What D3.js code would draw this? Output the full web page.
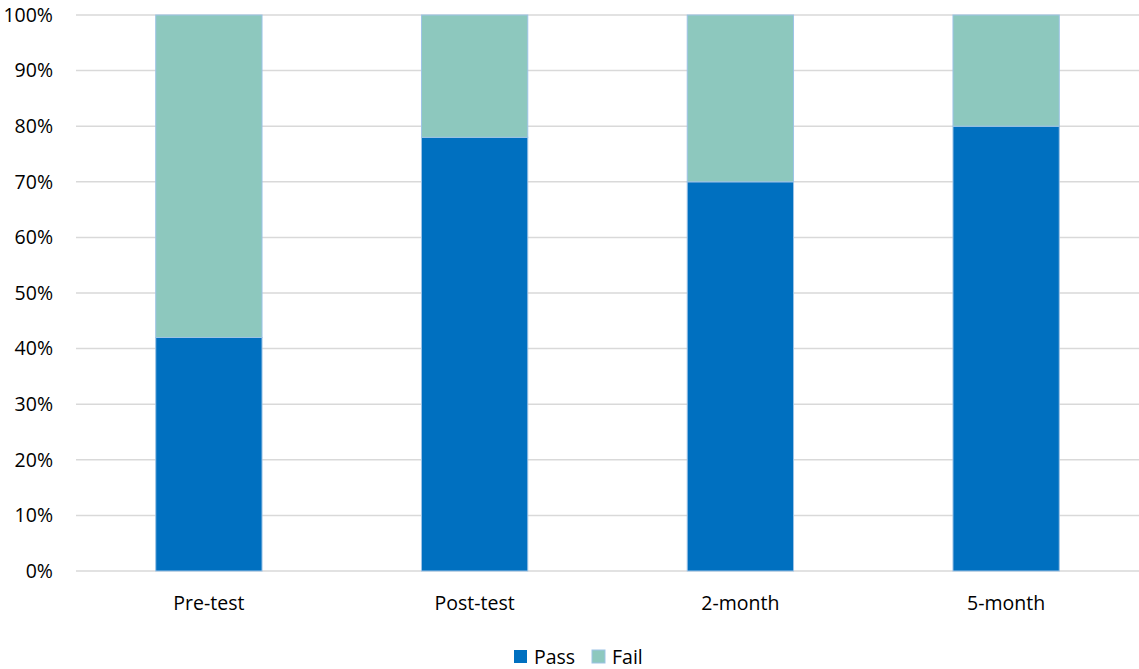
<!DOCTYPE html>
<html><head><meta charset="utf-8">
<script src="https://cdn.jsdelivr.net/npm/d3@7"></script>
<style>body{margin:0;background:#fff}text{font-family:"Open Sans","Noto Sans",sans-serif;fill:#000}</style>
</head><body>
<svg id="c" width="1139" height="669"></svg>
<script>
const categories = ["Pre-test","Post-test","2-month","5-month"];
const pass = [42, 78, 70, 80];
const fail = [58, 22, 30, 20];
const seriesNames = ["Pass","Fail"];
const yTicks = [0,10,20,30,40,50,60,70,80,90,100];
const colors = ["#0070C0","#8DC8BE"];

const svg = d3.select("#c");
const m = {l:76, r:1139, t:15, b:571};
const x = d3.scaleBand().domain(categories).range([m.l, m.r]).paddingInner(0.6).paddingOuter(0.3);
const y = d3.scaleLinear().domain([0,100]).range([m.b, m.t]);

svg.append("g").selectAll("line").data(yTicks).join("line")
  .attr("x1", m.l).attr("x2", m.r).attr("y1", d=>y(d)).attr("y2", d=>y(d))
  .attr("stroke", "#D9D9D9").attr("stroke-width", 1.5);

svg.append("g").selectAll("text").data(yTicks).join("text")
  .attr("x", 53).attr("y", d=>y(d)).attr("dy","0.35em").attr("text-anchor","end")
  .attr("font-size", 19.5).text(d=>d+"%");

const data = categories.map((c,i)=>({c, pass:pass[i], fail:fail[i]}));
const stack = d3.stack().keys(["pass","fail"])(data);
svg.append("g").selectAll("g").data(stack).join("g")
  .attr("fill", (d,i)=>colors[i])
  .selectAll("rect").data(d=>d).join("rect")
  .attr("x", d=>x(d.data.c)).attr("width", x.bandwidth())
  .attr("y", d=>y(d[1])).attr("height", d=>y(d[0])-y(d[1]))
  .attr("stroke", "#9DC3E6").attr("stroke-width", 1);

svg.append("g").selectAll("text").data(categories).join("text")
  .attr("x", d=>x(d)+x.bandwidth()/2).attr("y", 603).attr("dy","0.35em")
  .attr("text-anchor","middle").attr("font-size", 19.5).text(d=>d);

const lg = svg.append("g");
const legX = [514, 592];
seriesNames.forEach((n,i)=>{
  lg.append("rect").attr("x", legX[i]).attr("y", 650).attr("width", 13).attr("height", 13)
    .attr("fill", colors[i]).attr("stroke", i==1?"#9DC3E6":"none");
  lg.append("text").attr("x", legX[i]+20).attr("y", 657).attr("dy","0.35em")
    .attr("font-size", 19.5).text(n);
});
</script>
</body></html>
